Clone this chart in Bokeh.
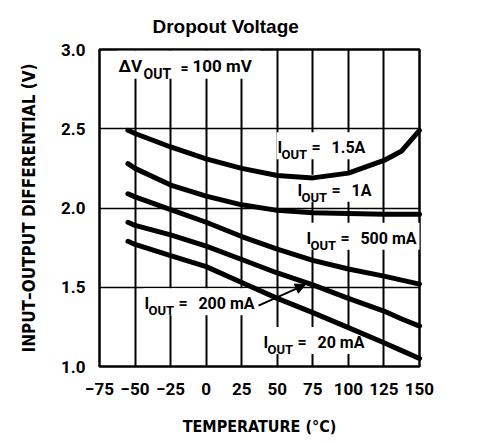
from bokeh.plotting import figure
from bokeh.models import FixedTicker, Label, Arrow, NormalHead
from bokeh.embed import file_html
from bokeh.resources import INLINE

# temperature (degC) and input-output differential (V)
temps = [-55, -50, -25, 0, 25, 50, 75, 100, 125, 137.5, 150]
v_1500ma = [2.49, 2.47, 2.385, 2.31, 2.25, 2.205, 2.19, 2.22, 2.30, 2.36, 2.49]
v_1000ma = [2.28, 2.25, 2.145, 2.075, 2.02, 1.985, 1.97, 1.965, 1.96, 1.96, 1.96]
v_500ma = [2.09, 2.07, 1.99, 1.91, 1.82, 1.74, 1.67, 1.615, 1.57, 1.545, 1.52]
v_200ma = [1.91, 1.89, 1.83, 1.76, 1.675, 1.59, 1.515, 1.43, 1.35, 1.30, 1.255]
v_20ma = [1.79, 1.77, 1.70, 1.63, 1.53, 1.43, 1.34, 1.245, 1.15, 1.10, 1.05]

x_ticks = [-75, -50, -25, 0, 25, 50, 75, 100, 125, 150]
y_ticks = [1.0, 1.5, 2.0, 2.5, 3.0]
y_grid = [1.5, 2.0, 2.5]

# curve labels: value text and where the "I" sits
label_values = ["1.5A", "1A", "500 mA", "200 mA", "20 mA"]
label_x = [50.2, 64.2, 70.5, -43.4, 40.3]
label_y = [2.32, 2.052, 1.75, 1.336, 1.091]

# arrow pointing from the 200 mA label to its curve
arrow_start = (36.8, 1.384)
arrow_end = (69.8, 1.517)

COND = "DejaVu Sans Condensed"
ROBO = "Roboto"
SANS = "Liberation Sans"

p = figure(width=480, height=440, x_range=(-75, 150), y_range=(1.0, 3.0),
           output_backend="svg", toolbar_location=None,
           min_border_left=99, min_border_right=61,
           min_border_top=48, min_border_bottom=74)
p.background_fill_color = "white"
p.border_fill_color = "white"
p.outline_line_color = "black"
p.outline_line_width = 2.5

p.title.text = "Dropout Voltage"
p.title.text_font = SANS
p.title.text_font_style = "bold"
p.title.text_font_size = "19px"
p.title.text_color = "black"
p.title.align = "left"
p.title.offset = 53
p.title.standoff = 26

p.xaxis.ticker = FixedTicker(ticks=x_ticks)
p.yaxis.ticker = FixedTicker(ticks=y_ticks)
p.xaxis.major_label_overrides = {t: str(t).replace("-", "\u2212") for t in x_ticks}
p.yaxis.major_label_overrides = {t: "%.1f" % t for t in y_ticks}
p.xaxis.axis_label = "TEMPERATURE (\u00b0C)"
p.yaxis.axis_label = "INPUT\u2013OUTPUT DIFFERENTIAL (V)"
for ax in p.axis:
    ax.axis_line_color = None
    ax.major_tick_line_color = None
    ax.minor_tick_line_color = None
    ax.major_label_text_font = ROBO
    ax.major_label_text_font_style = "bold"
    ax.major_label_text_font_size = "17px"
    ax.major_label_text_color = "black"
    ax.axis_label_text_font = COND
    ax.axis_label_text_font_style = "bold"
    ax.axis_label_text_color = "black"
p.xaxis.axis_label_text_font_size = "16px"
p.yaxis.axis_label_text_font_size = "17px"
p.xaxis.major_label_standoff = 10
p.yaxis.major_label_standoff = 8
p.xaxis.axis_label_standoff = 19
p.yaxis.axis_label_standoff = 19

p.xgrid.ticker = FixedTicker(ticks=x_ticks)
p.ygrid.ticker = FixedTicker(ticks=y_grid)
p.xgrid.grid_line_color = "black"
p.xgrid.grid_line_width = 2
p.ygrid.grid_line_color = "black"
p.ygrid.grid_line_width = 1.5

# curves go on top of the white label boxes
for vals in [v_1500ma, v_1000ma, v_500ma, v_200ma, v_20ma]:
    p.line(temps, vals, line_color="black", line_width=5,
           line_join="round", line_cap="round", level="overlay")


def txt(x, y, s, dx=0, dy=0, size="16px", font=ROBO, color="black", bg=False):
    lab = Label(x=x, y=y, x_offset=dx, y_offset=dy, text=s,
                text_font=font, text_font_style="bold", text_font_size=size,
                text_color=color)
    if bg:
        lab.background_fill_color = "white"
        lab.padding = 4
    p.add_layout(lab)


# white boxes behind the labels (they break the grid lines)
for x, y, val in zip(label_x, label_y, label_values):
    txt(x, y, "IOUT = " + val, dx=-1, dy=-2, color="white", bg=True)
txt(-61.6, 2.835, "\u0394VOUT = 100 mV", dx=-1, dy=-3, size="17px",
    color="white", bg=True)

p.add_layout(Arrow(end=NormalHead(size=10, fill_color="black", line_color="black"),
                   x_start=arrow_start[0], y_start=arrow_start[1],
                   x_end=arrow_end[0], y_end=arrow_end[1],
                   line_width=2, line_color="black"))

for x, y, val in zip(label_x, label_y, label_values):
    txt(x, y, "I")
    txt(x, y, "OUT", dx=4, dy=-5, size="13px")
    txt(x, y, "=", dx=34)
    txt(x, y, val, dx=54)

txt(-61.6, 2.835, "\u0394V", size="17px")
txt(-61.6, 2.835, "OUT", dx=25, dy=-6, size="14px")
txt(-61.6, 2.835, "=", dx=62, size="14px")
txt(-61.6, 2.835, "100 mV", dx=74, size="17px")

open("out.html", "w").write(file_html(p, INLINE))
